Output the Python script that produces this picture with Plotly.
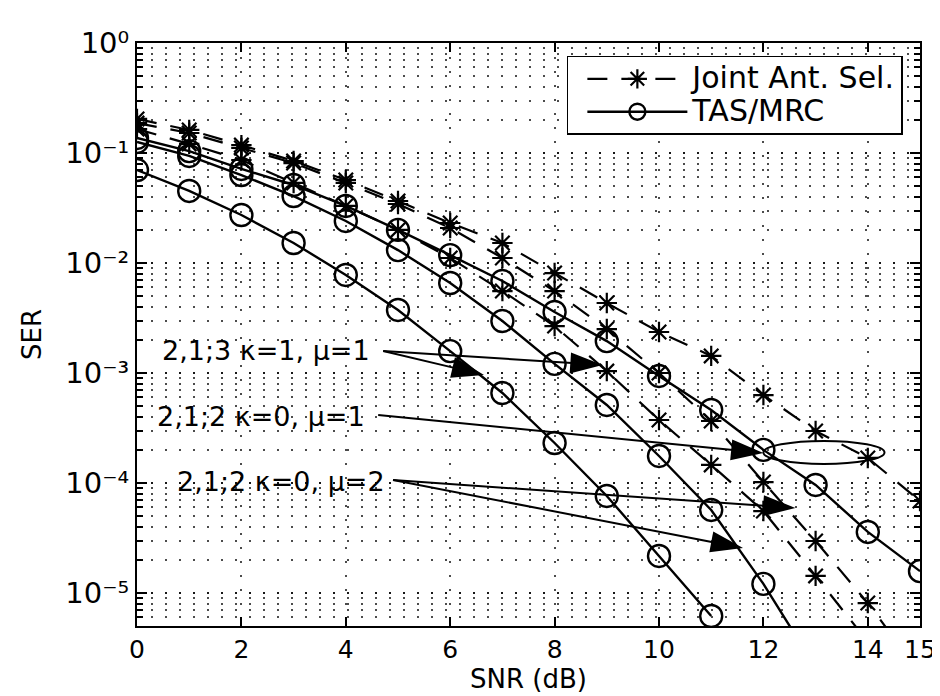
import math
import plotly.graph_objects as go

# ---------------- data ----------------
snr = [0, 1, 2, 3, 4, 5, 6, 7, 8, 9, 10, 11, 12, 13, 14, 15]

# Joint antenna selection (dashed, asterisk)
jas_k0_mu1 = [0.204, 0.162, 0.118, 0.0846, 0.0568, 0.0366, 0.0231, 0.0152, 0.0081,
              0.00433, 0.00236, 0.00143, 6.3e-4, 2.97e-4, 1.69e-4, 6.86e-5]
jas_k0_mu2 = [0.187, 0.152, 0.111, 0.081, 0.0534, 0.0344, 0.0208, 0.0111, 0.00556,
              0.00251, 0.0010, 3.66e-4, 1.02e-4, 2.97e-5, 8.1e-6, 1.87e-6]
jas_k1_mu1 = [0.165, 0.121, 0.0864, 0.0534, 0.033, 0.020, 0.0111, 0.00556, 0.00267,
              0.00104, 3.74e-4, 1.46e-4, 5.56e-5, 1.43e-5, 3.6e-6]

# TAS/MRC (solid, circle)
tas_k0_mu1 = [0.137, 0.104, 0.0716, 0.0512, 0.033, 0.020, 0.0118, 0.00686, 0.00359,
              0.00195, 9.4e-4, 4.61e-4, 2.0e-4, 9.6e-5, 3.59e-5, 1.58e-5]
tas_k0_mu2 = [0.126, 0.094, 0.063, 0.0406, 0.0241, 0.0131, 0.00658, 0.00297, 0.00121,
              5.12e-4, 1.76e-4, 5.69e-5, 1.21e-5, 2.1e-6]
tas_k1_mu1 = [0.070, 0.0452, 0.0273, 0.0152, 0.00778, 0.00374, 0.00158, 6.58e-4,
              2.31e-4, 7.62e-5, 2.17e-5, 6.18e-6]

x_ticks = [0, 2, 4, 6, 8, 10, 12, 14, 15]
y_ticks = [1e0, 1e-1, 1e-2, 1e-3, 1e-4, 1e-5]
y_tick_text = ["10\u2070", "10\u207b\u00b9", "10\u207b\u00b2",
               "10\u207b\u00b3", "10\u207b\u2074", "10\u207b\u2075"]

legend_names = ["Joint Ant. Sel.", "TAS/MRC"]
label_a = "2,1;3 \u03ba=1, \u03bc=1"
label_b = "2,1;2 \u03ba=0, \u03bc=1"
label_c = "2,1;2 \u03ba=0, \u03bc=2"

# ---------------- figure ----------------
FONT = "DejaVu Sans, Liberation Sans, Arial, sans-serif"
fig = go.Figure()

dash_style = dict(color="black", width=2.2, dash="20px,14px")
solid_style = dict(color="black", width=2.4)
ast_marker = dict(symbol="asterisk-open", size=17, color="black",
                  line=dict(color="black", width=2.2))
circ_marker = dict(symbol="circle-open", size=22, color="black",
                   line=dict(color="black", width=2.4))

jas_series = [jas_k0_mu1, jas_k0_mu2, jas_k1_mu1]
tas_series = [tas_k0_mu1, tas_k0_mu2, tas_k1_mu1]


def big(t):
    return '<span style="font-size:30px">' + t + '</span>'


for i, ys in enumerate(jas_series):
    fig.add_trace(go.Scatter(x=snr[:len(ys)], y=ys, mode="lines+markers",
                             line=dash_style, marker=ast_marker,
                             name=big(legend_names[0]), showlegend=(i == 0)))
for i, ys in enumerate(tas_series):
    fig.add_trace(go.Scatter(x=snr[:len(ys)], y=ys, mode="lines+markers",
                             line=solid_style, marker=circ_marker,
                             name=big(legend_names[1]), showlegend=(i == 0)))

# ---------------- arrows (line + arrowhead marker pointing at the tip) ----------------
arrows = [
    # (tail x, tail log10 y, tip x, tip log10 y)
    (4.716, -2.80, 6.648, -3.018),
    (4.716, -2.80, 8.92, -2.927),
    (4.62, -3.382, 12.0, -3.727),
    (4.905, -3.973, 12.614, -4.227),
    (4.905, -3.973, 11.61, -4.591),
]
for tx, ty, hx, hy in arrows:
    fig.add_trace(go.Scatter(
        x=[tx, hx], y=[10 ** ty, 10 ** hy], mode="lines+markers",
        line=dict(color="black", width=2),
        marker=dict(symbol="arrow", size=34, angleref="previous", color="black",
                    line=dict(width=0)),
        showlegend=False, hoverinfo="skip", cliponaxis=False))

grid_dash = "2px,12px"
grid_col = "rgba(0,0,0,0.7)"

fig.update_layout(
    width=940, height=696,
    margin=dict(l=129, r=19, t=35, b=78),
    paper_bgcolor="white", plot_bgcolor="white",
    font=dict(family=FONT, size=25, color="black"),
    legend=dict(x=0.549, y=0.978, xanchor="left", yanchor="top",
                bgcolor="white", bordercolor="black", borderwidth=1.5,
                font=dict(size=23, family=FONT), itemwidth=100,
                indentation=14, tracegroupgap=0),
    xaxis=dict(range=[0, 15], tickvals=x_ticks, ticks="inside", ticklen=9,
               tickwidth=1.5, tickcolor="black",
               showline=True, linecolor="black", linewidth=2, mirror="allticks",
               showgrid=True, gridcolor=grid_col, griddash=grid_dash, gridwidth=1.5,
               zeroline=False,
               title=dict(text="SNR (dB)", font=dict(size=26, family=FONT), standoff=4),
               tickfont=dict(size=25, family=FONT)),
    yaxis=dict(type="log", range=[-5.3, 0], tickvals=y_ticks, ticktext=y_tick_text,
               ticks="inside", ticklen=10, tickwidth=1.5, tickcolor="black",
               showline=True, linecolor="black", linewidth=2, mirror="allticks",
               showgrid=True, gridcolor=grid_col, griddash=grid_dash, gridwidth=1.5,
               zeroline=False,
               minor=dict(dtick="D1", ticks="inside", ticklen=6, tickcolor="black",
                          showgrid=True, gridcolor=grid_col, griddash=grid_dash,
                          gridwidth=1.5),
               title=dict(text="SER", font=dict(size=26, family=FONT), standoff=16),
               tickfont=dict(size=29, family=FONT)),
)

# ---------------- text labels ----------------
texts = [
    (label_a, 4.51, -2.791),
    (label_b, 4.413, -3.391),
    (label_c, 4.79, -3.982),
]
for t, x, y in texts:
    fig.add_annotation(x=x, y=y, xref="x", yref="y", text=t, showarrow=False,
                       xanchor="right", yanchor="middle",
                       font=dict(size=27, family=FONT, color="black"))

# ellipse grouping the two kappa=0, mu=1 points at the same SER
fig.add_shape(type="circle", xref="x", yref="y",
              x0=12.0, x1=14.32, y0=10 ** -3.827, y1=10 ** -3.618,
              line=dict(color="black", width=2))

fig.write_html("out.html", config={"displayModeBar": False})
